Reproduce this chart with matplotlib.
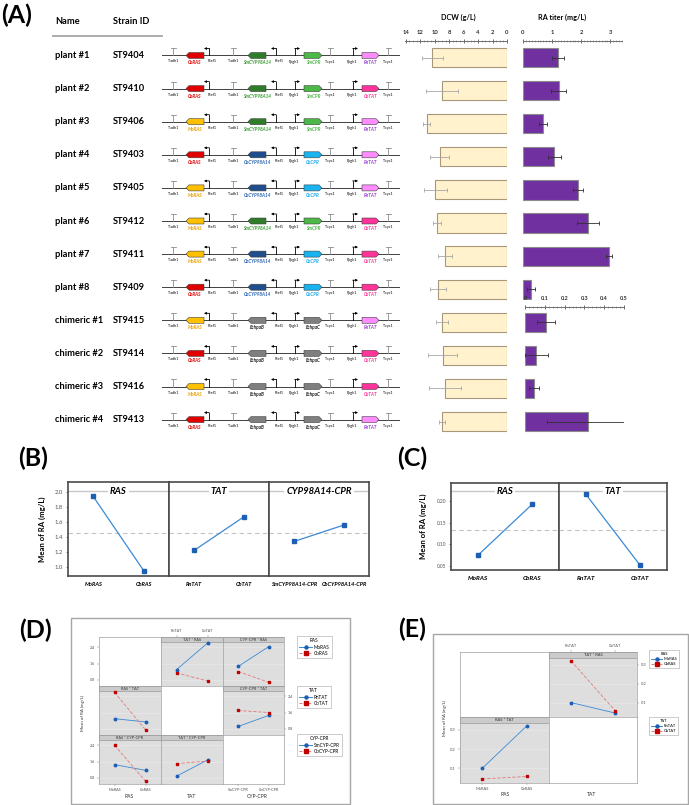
import numpy as np
import matplotlib
matplotlib.use('Agg')
import matplotlib.pyplot as plt
from matplotlib.patches import Polygon, Rectangle
from matplotlib.lines import Line2D
from matplotlib.ticker import MultipleLocator

plt.rcParams['font.family'] = ['Lato', 'DejaVu Sans']

W, H = 689, 805

# ---------------- panel A data ----------------
names = ['plant #1', 'plant #2', 'plant #3', 'plant #4', 'plant #5', 'plant #6',
         'plant #7', 'plant #8', 'chimeric #1', 'chimeric #2', 'chimeric #3', 'chimeric #4']
strain_ids = ['ST9404', 'ST9410', 'ST9406', 'ST9403', 'ST9405', 'ST9412',
              'ST9411', 'ST9409', 'ST9415', 'ST9414', 'ST9416', 'ST9413']
ras_genes = ['CbRAS', 'CbRAS', 'MoRAS', 'CbRAS', 'MoRAS', 'MoRAS',
             'MoRAS', 'CbRAS', 'MoRAS', 'CbRAS', 'MoRAS', 'CbRAS']
cyp_genes = ['SmCYP98A14', 'SmCYP98A14', 'SmCYP98A14', 'CbCYP98A14', 'CbCYP98A14', 'SmCYP98A14',
             'CbCYP98A14', 'CbCYP98A14', 'EchpaB', 'EchpaB', 'EchpaB', 'EchpaB']
cpr_genes = ['SmCPR', 'SmCPR', 'SmCPR', 'CbCPR', 'CbCPR', 'SmCPR',
             'CbCPR', 'CbCPR', 'EchpaC', 'EchpaC', 'EchpaC', 'EchpaC']
tat_genes = ['RnTAT', 'CbTAT', 'RnTAT', 'RnTAT', 'RnTAT', 'CbTAT',
             'CbTAT', 'CbTAT', 'RnTAT', 'CbTAT', 'CbTAT', 'RnTAT']

dcw = [10.3, 9.0, 11.1, 9.3, 9.9, 9.7, 8.6, 9.6, 9.0, 8.9, 8.6, 9.0]
dcw_err = [1.5, 2.2, 0.5, 1.3, 1.6, 0.55, 1.0, 1.1, 0.8, 2.0, 2.2, 0.4]
ra_plant = [1.2, 1.22, 0.69, 1.08, 1.9, 2.24, 2.96, 0.28]
ra_plant_err = [0.2, 0.26, 0.14, 0.21, 0.17, 0.37, 0.1, 0.14]
ra_chim = [0.105, 0.058, 0.045, 0.32]
ra_chim_err = [0.045, 0.06, 0.025, 0.21]

# ---------------- panel B / C data (main effects) ----------------
ras_levels = ['MoRAS', 'CbRAS']
tat_levels = ['RnTAT', 'CbTAT']
cyp_levels = ['SmCYP98A14-CPR', 'CbCYP98A14-CPR']
b_ras = [1.94, 0.95]
b_tat = [1.22, 1.67]
b_cyp = [1.34, 1.56]
b_mean = 1.45
c_ras = [0.075, 0.192]
c_tat = [0.215, 0.052]
c_mean = 0.134

# ---------------- panel D data (interactions, plants) ----------------
d_tat_ras_mo = [1.30, 2.60]
d_tat_ras_cb = [1.14, 0.75]
d_cyp_ras_mo = [1.46, 2.43]
d_cyp_ras_cb = [1.21, 0.68]
d_ras_tat_rn = [1.30, 1.14]
d_ras_tat_cb = [2.60, 0.75]
d_cyp_tat_rn = [0.92, 1.46]
d_cyp_tat_cb = [1.70, 1.60]
d_ras_cyp_sm = [1.45, 1.17]
d_ras_cyp_cb = [2.40, 0.64]
d_tat_cyp_sm = [0.88, 1.68]
d_tat_cyp_cb = [1.50, 1.62]

# ---------------- panel E data (interactions, chimeric) ----------------
e_tat_ras_mo = [0.10, 0.045]
e_tat_ras_cb = [0.32, 0.058]
e_ras_tat_rn = [0.10, 0.32]
e_ras_tat_cb = [0.045, 0.058]

gene_fill = {'CbRAS': '#e00000', 'MoRAS': '#ffc000', 'SmCYP98A14': '#2f7d2a',
             'CbCYP98A14': '#1f4e8c', 'SmCPR': '#4cb848', 'CbCPR': '#18b4f0',
             'RnTAT': '#ff8cff', 'CbTAT': '#ff3399', 'EchpaB': '#7f7f7f', 'EchpaC': '#7f7f7f'}
gene_text = {'CbRAS': '#e00000', 'MoRAS': '#e8a000', 'SmCYP98A14': '#3a9a32',
             'CbCYP98A14': '#2a64b0', 'SmCPR': '#4cb848', 'CbCPR': '#18a8e8',
             'RnTAT': '#9b3fd0', 'CbTAT': '#ff3399', 'EchpaB': '#202020', 'EchpaC': '#202020'}

fig = plt.figure(figsize=(W / 100, H / 100), dpi=100)


def px_axes(x0, y0, x1, y1):
    return fig.add_axes([x0 / W, 1 - y1 / H, (x1 - x0) / W, (y1 - y0) / H])


ax0 = fig.add_axes([0, 0, 1, 1])
ax0.set_xlim(0, W)
ax0.set_ylim(H, 0)
ax0.axis('off')

# panel letters
for lab, x, y in [('(A)', 17, 15), ('(B)', 33, 458), ('(C)', 412, 458), ('(D)', 35, 630), ('(E)', 412, 629)]:
    ax0.text(x, y, lab, fontsize=18, fontweight='bold', ha='center', va='center')

# ---------------- panel A: table + constructs ----------------
ax0.text(55, 22, 'Name', fontsize=6.7, fontweight='bold', va='center')
ax0.text(113, 22, 'Strain ID', fontsize=6.7, fontweight='bold', va='center')
ax0.plot([53, 162], [36, 36], color='#a6a6a6', lw=1.3)


def draw_gene(x0, x1, y, d, name):
    h, tip = 3, 3
    if d > 0:
        pts = [(x0, y - h), (x1 - tip, y - h), (x1, y), (x1 - tip, y + h), (x0, y + h)]
    else:
        pts = [(x1, y - h), (x0 + tip, y - h), (x0, y), (x0 + tip, y + h), (x1, y + h)]
    ax0.add_patch(Polygon(pts, closed=True, fc=gene_fill[name], ec='#404040', lw=0.4, zorder=3))
    ax0.text((x0 + x1) / 2, y + 7.5, name, fontsize=3.3, style='italic', fontweight='bold',
             color=gene_text[name], ha='center', va='center')


terms = [(173, 'Tadh1'), (233, 'Tadh1'), (330, 'Tcyc1'), (388, 'Tcyc1')]
proms = [(209, -1, 'Ptef1'), (276, -1, 'Ptef1'), (295, 1, 'Ppgk1'), (353, 1, 'Ppgk1')]
slots = [(186, 204, -1), (248, 266, -1), (304, 322, 1), (362, 379, 1)]

for i in range(len(names)):
    yb = 55.5 + 33.1 * i
    ax0.text(55, yb, names[i], fontsize=6.7, fontweight='bold', va='center')
    ax0.text(113, yb, strain_ids[i], fontsize=6.7, fontweight='bold', va='center')
    ax0.plot([162, 399], [yb, yb], color='#404040', lw=0.7, zorder=2)
    for x, lab in terms:
        ax0.plot([x, x], [yb, yb - 7], color='#8c8c8c', lw=0.6)
        ax0.plot([x - 2.5, x + 2.5], [yb - 7, yb - 7], color='#8c8c8c', lw=0.6)
        ax0.text(x, yb + 6, lab, fontsize=2.7, ha='center', va='center')
    for x, d, lab in proms:
        ax0.plot([x, x], [yb, yb - 7], color='k', lw=0.6)
        ax0.annotate('', xy=(x + 5 * d, yb - 7), xytext=(x - 0.3 * d, yb - 7),
                     arrowprops=dict(arrowstyle='-|>', lw=0.6, color='k', mutation_scale=3,
                                     shrinkA=0, shrinkB=0))
        ax0.text(x + (3 if d < 0 else -1), yb + 6, lab, fontsize=2.7, ha='center', va='center')
    for (x0, x1, d), g in zip(slots, [ras_genes[i], cyp_genes[i], cpr_genes[i], tat_genes[i]]):
        draw_gene(x0, x1, yb, d, g)


def top_axis(ax, major, minor):
    for s in ['left', 'right', 'bottom']:
        ax.spines[s].set_visible(False)
    ax.spines['top'].set_color('#707070')
    ax.spines['top'].set_linewidth(0.7)
    ax.xaxis.tick_top()
    ax.xaxis.set_major_locator(MultipleLocator(major))
    ax.xaxis.set_minor_locator(MultipleLocator(minor))
    ax.tick_params(axis='x', which='major', direction='inout', length=3.5, width=0.6,
                   labelsize=4.2, pad=2.5, colors='#505050', labelcolor='#303030')
    ax.tick_params(axis='x', which='minor', direction='inout', length=1.8, width=0.4, colors='#707070')
    ax.set_yticks([])
    ax.patch.set_alpha(0)


rows = np.arange(len(names))
ax_d = px_axes(405, 41, 507, 435)
ax_d.barh(rows, dcw, height=0.58, color='#fff2cc', edgecolor='#a8977a', lw=0.8)
ax_d.errorbar(dcw, rows, xerr=dcw_err, fmt='none', ecolor='#a6a6a6', elinewidth=0.6, capsize=1.2,
              capthick=0.6)
ax_d.set_xlim(14.1, 0)
ax_d.set_ylim(11.405, -0.4985)
top_axis(ax_d, 2, 0.5)
ax_d.set_xticks([14, 12, 10, 8, 6, 4, 2, 0])
ax_d.set_xticklabels(['14', '12', '10', '8', '6', '4', '2', '0'], fontweight='bold')
ax0.text(458, 17, 'DCW (g/L)', fontsize=5.2, fontweight='bold', ha='center', va='center')

ax_r1 = px_axes(523, 41, 622, 300)
ax_r1.barh(rows[:8], ra_plant, height=0.58, color='#7030a0', edgecolor='#8c8c8c', lw=0.8)
ax_r1.errorbar(ra_plant, rows[:8], xerr=ra_plant_err, fmt='none', ecolor='#303030', elinewidth=0.6,
               capsize=1.2, capthick=0.6)
ax_r1.set_xlim(0, 3.4)
ax_r1.set_ylim(7.326, -0.4985)
top_axis(ax_r1, 1, 0.1)
ax_r1.set_xticks([0, 1, 2, 3])
ax_r1.set_xticklabels(['0', '1', '2', '3'], fontweight='bold')
ax0.text(562, 17, 'RA titer (mg/L)', fontsize=5.2, fontweight='bold', ha='center', va='center')

ax_r2 = px_axes(525, 307, 624, 435)
ax_r2.barh(rows[8:], ra_chim, height=0.58, color='#7030a0', edgecolor='#8c8c8c', lw=0.8)
ax_r2.errorbar(ra_chim, rows[8:], xerr=ra_chim_err, fmt='none', ecolor='#303030', elinewidth=0.6,
               capsize=1.2, capthick=0.6)
ax_r2.set_xlim(0, 0.5)
ax_r2.set_ylim(11.405, 7.538)
top_axis(ax_r2, 0.1, 0.02)
ax_r2.set_xticks([0, 0.1, 0.2, 0.3, 0.4, 0.5])
ax_r2.set_xticklabels(['0', '0.1', '0.2', '0.3', '0.4', '0.5'], fontweight='bold')
ax_r2.tick_params(axis='x', which='major', labelsize=4.0)

# ---------------- panels B and C: main effects ----------------
line_c = '#3a8ad6'
mark_c = '#1d5fb5'


def main_effect(ax, levels, vals, title, mean, ylim, yticks, fmt, strip_y, left):
    ax.set_xlim(-0.5, 1.5)
    ax.set_ylim(*ylim)
    ax.axhline(mean, ls=(0, (4, 3)), color='#c4c4c4', lw=0.8)
    ax.plot([0, 1], [strip_y] * 2, transform=ax.transAxes, color='#c8c8c8', lw=1.0)
    ax.plot([0, 1], vals, color=line_c, lw=0.9, marker='s', ms=2.2, mfc=mark_c, mec=mark_c)
    ax.text(0.5, strip_y, title, transform=ax.transAxes, fontsize=6.8, fontweight='bold',
            style='italic', ha='center', va='center',
            bbox=dict(fc='white', ec='none', pad=1.2))
    for s in ax.spines.values():
        s.set_color('#4a4a4a')
        s.set_linewidth(1.2)
    ax.set_xticks([0, 1])
    ax.set_xticklabels(levels, fontsize=4.1, fontweight='bold', style='italic')
    ax.tick_params(axis='x', length=0, pad=4)
    if left:
        ax.set_yticks(yticks)
        ax.set_yticklabels([fmt % v for v in yticks])
        ax.tick_params(axis='y', length=1.5, width=0.5, labelsize=4.3, labelcolor='#555555',
                       colors='#555555', pad=2)
    else:
        ax.set_yticks([])


b_specs = [(ras_levels, b_ras, 'RAS'), (tat_levels, b_tat, 'TAT'), (cyp_levels, b_cyp, 'CYP98A14-CPR')]
b_x = [(68, 169), (169, 269), (269, 369)]
for k, ((lv, vals, title), (x0, x1)) in enumerate(zip(b_specs, b_x)):
    ax = px_axes(x0, 482, x1, 576)
    main_effect(ax, lv, vals, title, b_mean, (0.88, 2.133), [1.0, 1.2, 1.4, 1.6, 1.8, 2.0], '%.1f',
                0.904, k == 0)
ax0.text(42, 529, 'Mean of RA (mg/L)', fontsize=5.6, fontweight='bold', rotation=90,
         ha='center', va='center')

c_specs = [(ras_levels, c_ras, 'RAS'), (tat_levels, c_tat, 'TAT')]
c_x = [(451, 559), (559, 667)]
for k, ((lv, vals, title), (x0, x1)) in enumerate(zip(c_specs, c_x)):
    ax = px_axes(x0, 483, x1, 570)
    main_effect(ax, lv, vals, title, c_mean, (0.0408, 0.2415), [0.05, 0.10, 0.15, 0.20], '%.2f',
                0.908, k == 0)
    ax.tick_params(axis='x', labelsize=4.6)
    if k == 0:
        ax.tick_params(axis='y', labelsize=3.5)
ax0.text(423, 526, 'Mean of RA (mg/L)', fontsize=5.6, fontweight='bold', rotation=90,
         ha='center', va='center')

# ---------------- panels D and E: interaction plots ----------------
blue_l, blue_m = '#3a8ad6', '#1d5fb5'
red_l, red_m = '#e07a7a', '#c00000'


def inter_panel(ax, ylim, yticks, title=None, blue=None, red=None, strip=0.11, tsize=2.8):
    ax.set_xlim(-0.5, 1.5)
    ax.set_ylim(*ylim)
    for s in ax.spines.values():
        s.set_color('#a0a0a0')
        s.set_linewidth(0.5)
    ax.set_xticks([])
    ax.set_yticks([])
    if title is None:
        ax.set_facecolor('white')
        return
    ax.set_facecolor('#dedede')
    for v in yticks:
        ax.axhline(v, color='#ececec', lw=0.4, zorder=1)
    ax.add_patch(Rectangle((0, 1 - strip), 1, strip, transform=ax.transAxes, fc='#cbcbcb',
                           ec='#8c8c8c', lw=0.4, zorder=2))
    ax.text(0.5, 1 - strip / 2, title, transform=ax.transAxes, fontsize=tsize, ha='center',
            va='center', color='#303030', zorder=3)
    ax.plot([0, 1], blue, color=blue_l, lw=0.6, marker='o', ms=1.8, mfc=blue_m, mec=blue_m, zorder=4)
    ax.plot([0, 1], red, color=red_l, lw=0.6, ls=(0, (4, 2)), marker='s', ms=1.8, mfc=red_m,
            mec=red_m, zorder=4)


def set_ticks(ax, side, ticks, labels, size):
    if side in ('left', 'right'):
        ax.set_yticks(ticks)
        ax.set_yticklabels(labels)
        if side == 'right':
            ax.yaxis.tick_right()
        ax.tick_params(axis='y', length=1.5, width=0.3, labelsize=size, colors='#707070',
                       labelcolor='#505050', pad=1.5)
    else:
        ax.set_xticks(ticks)
        ax.set_xticklabels(labels)
        if side == 'top':
            ax.xaxis.tick_top()
        ax.tick_params(axis='x', length=1.5, width=0.3, labelsize=size, colors='#707070',
                       labelcolor='#505050', pad=1.5)


# frame of D
ax0.add_patch(Rectangle((71, 618), 279, 186, fc='white', ec='#a6a6a6', lw=1.0))
d_cols = [(99, 161), (161, 223), (223, 284)]
d_rows = [(637, 686), (686, 735), (735, 784)]
d_ylim = (0.5, 2.9)
d_yt = [0.8, 1.6, 2.4]
d_panels = {
    (0, 1): ('TAT * RAS', d_tat_ras_mo, d_tat_ras_cb),
    (0, 2): ('CYP-CPR * RAS', d_cyp_ras_mo, d_cyp_ras_cb),
    (1, 0): ('RAS * TAT', d_ras_tat_rn, d_ras_tat_cb),
    (1, 2): ('CYP-CPR * TAT', d_cyp_tat_rn, d_cyp_tat_cb),
    (2, 0): ('RAS * CYP-CPR', d_ras_cyp_sm, d_ras_cyp_cb),
    (2, 1): ('TAT * CYP-CPR', d_tat_cyp_sm, d_tat_cyp_cb),
}
d_axes = {}
for r, (y0, y1) in enumerate(d_rows):
    for c, (x0, x1) in enumerate(d_cols):
        ax = px_axes(x0, y0, x1, y1)
        if (r, c) in d_panels:
            t, bl, rd = d_panels[(r, c)]
            inter_panel(ax, d_ylim, d_yt, t, bl, rd, strip=0.11, tsize=2.8)
        else:
            inter_panel(ax, d_ylim, d_yt)
        d_axes[(r, c)] = ax
yl = ['0.8', '1.6', '2.4']
set_ticks(d_axes[(0, 0)], 'left', d_yt, yl, 2.7)
set_ticks(d_axes[(2, 0)], 'left', d_yt, yl, 2.7)
set_ticks(d_axes[(1, 2)], 'right', d_yt, yl, 2.7)
set_ticks(d_axes[(0, 1)], 'top', [0, 1], tat_levels, 2.7)
set_ticks(d_axes[(2, 0)], 'bottom', [0, 1], ras_levels, 2.7)
set_ticks(d_axes[(2, 2)], 'bottom', [0, 1], ['SmCYP-CPR', 'CbCYP-CPR'], 2.7)
ax0.text(83, 713, 'Mean of RA (mg/L)', fontsize=3.2, rotation=90, ha='center', va='center',
         color='#303030')
for lab, x in [('RAS', 129), ('TAT', 192), ('CYP-CPR', 257)]:
    ax0.text(x, 796, lab, fontsize=3.6, ha='center', va='center', color='#303030')


def leg(handles_lab, title, x, y, size):
    hs = [Line2D([], [], color=blue_l, lw=0.7, marker='o', ms=2.2, mfc=blue_m, mec=blue_m),
          Line2D([], [], color=red_l, lw=0.7, ls=(0, (3, 1.5)), marker='s', ms=2.2, mfc=red_m,
                 mec=red_m)]
    lg = fig.legend(hs, handles_lab, title=title, loc='upper left', bbox_to_anchor=(x / W, 1 - y / H),
                    fontsize=size, title_fontsize=size, frameon=True, fancybox=False,
                    edgecolor='#a6a6a6', handlelength=2.6, borderpad=0.5, labelspacing=0.25,
                    handletextpad=0.4, borderaxespad=0)
    lg.get_frame().set_linewidth(0.5)
    return lg


leg(ras_levels, 'RAS', 297, 636, 3.4)
leg(tat_levels, 'TAT', 297, 686, 3.4)
leg(['SmCYP-CPR', 'CbCYP-CPR'], 'CYP-CPR', 297, 734, 3.4)

# frame of E
ax0.add_patch(Rectangle((433, 634), 255, 170, fc='white', ec='#a6a6a6', lw=1.0))
e_cols = [(460, 549), (549, 637)]
e_rows = [(652, 717), (717, 783)]
e_ylim = (0.024, 0.366)
e_yt = [0.1, 0.2, 0.3]
e_panels = {
    (0, 1): ('TAT * RAS', e_tat_ras_mo, e_tat_ras_cb),
    (1, 0): ('RAS * TAT', e_ras_tat_rn, e_ras_tat_cb),
}
e_axes = {}
for r, (y0, y1) in enumerate(e_rows):
    for c, (x0, x1) in enumerate(e_cols):
        ax = px_axes(x0, y0, x1, y1)
        if (r, c) in e_panels:
            t, bl, rd = e_panels[(r, c)]
            inter_panel(ax, e_ylim, e_yt, t, bl, rd, strip=0.09, tsize=3.0)
        else:
            inter_panel(ax, e_ylim, e_yt)
        e_axes[(r, c)] = ax
el = ['0.1', '0.2', '0.3']
set_ticks(e_axes[(0, 1)], 'right', e_yt, el, 2.9)
set_ticks(e_axes[(1, 0)], 'left', e_yt, el, 2.9)
set_ticks(e_axes[(0, 1)], 'top', [0, 1], tat_levels, 2.9)
set_ticks(e_axes[(1, 0)], 'bottom', [0, 1], ras_levels, 2.9)
ax0.text(445, 718, 'Mean of RA (mg/L)', fontsize=3.2, rotation=90, ha='center', va='center',
         color='#303030')
for lab, x in [('RAS', 505), ('TAT', 592)]:
    ax0.text(x, 794, lab, fontsize=3.6, ha='center', va='center', color='#303030')
leg(ras_levels, 'RAS', 649, 650, 3.0)
leg(tat_levels, 'TAT', 649, 717, 3.0)

fig.savefig('out.png', dpi=100)
